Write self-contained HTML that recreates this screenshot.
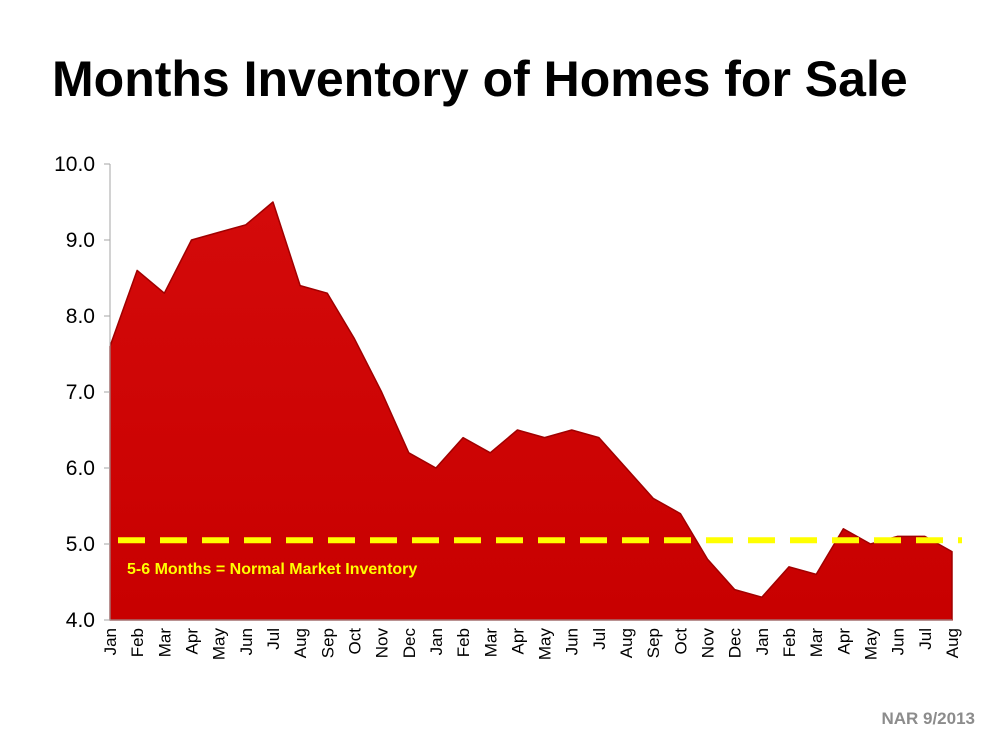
<!DOCTYPE html>
<html><head><meta charset="utf-8">
<style>
body{margin:0;background:#fff;width:1000px;height:750px;overflow:hidden;font-family:"Liberation Sans",Arial,sans-serif;}
svg{position:absolute;left:0;top:0}
</style></head>
<body>
<svg id="chart" width="1000" height="750">
<defs>
<linearGradient id="g" x1="0" y1="0" x2="0" y2="1"><stop offset="0" stop-color="#d40a0a"/><stop offset="1" stop-color="#c80000"/></linearGradient>
</defs>
<text x="52" y="96" font-size="50" font-weight="bold" fill="#000">Months Inventory of Homes for Sale</text>
<text x="975" y="724" font-size="17" font-weight="bold" fill="#8c8c8c" text-anchor="end">NAR 9/2013</text>
</svg>
<script>
const categories=["Jan","Feb","Mar","Apr","May","Jun","Jul","Aug","Sep","Oct","Nov","Dec","Jan","Feb","Mar","Apr","May","Jun","Jul","Aug","Sep","Oct","Nov","Dec","Jan","Feb","Mar","Apr","May","Jun","Jul","Aug"];
const values=[7.6,8.6,8.3,9.0,9.1,9.2,9.5,8.4,8.3,7.7,7.0,6.2,6.0,6.4,6.2,6.5,6.4,6.5,6.4,6.0,5.6,5.4,4.8,4.4,4.3,4.7,4.6,5.2,5.0,5.1,5.1,4.9];
const yTicks=[4.0,5.0,6.0,7.0,8.0,9.0,10.0];
const normalLevel=5.05;
const NS="http://www.w3.org/2000/svg";
const svg=document.getElementById('chart');
const x0=110,x1=952,yTop=164,yBot=620,yMin=4,yMax=10;
const xs=i=>x0+(x1-x0)*i/(categories.length-1);
const ys=v=>yBot-(v-yMin)/(yMax-yMin)*(yBot-yTop);
function mk(t,a){const e=document.createElementNS(NS,t);for(const k in a)e.setAttribute(k,a[k]);svg.appendChild(e);return e;}
let d=`M${xs(0)},${yBot}`;values.forEach((v,i)=>d+=` L${xs(i)},${ys(v)}`);d+=` L${xs(values.length-1)},${yBot} Z`;
const area=mk('path',{d,fill:'url(#g)',stroke:'#a00000','stroke-width':1.5,'stroke-linejoin':'round'});


const ax=mk('line',{x1:x0,y1:yTop,x2:x0,y2:yBot,stroke:'#a6a6a6','stroke-width':1});


yTicks.forEach(t=>{
 const tl=mk('line',{x1:x0-6,y1:ys(t),x2:x0,y2:ys(t),stroke:'#a6a6a6'});
 
 
 const tx=mk('text',{x:95,y:ys(t)+7,'font-size':21,'text-anchor':'end',fill:'#000'});
 tx.textContent=t.toFixed(1);
 
 
});
const xa=mk('line',{x1:x0,y1:yBot,x2:x1,y2:yBot,stroke:'#a6a6a6'});


categories.forEach((c,i)=>{
 const tx=mk('text',{x:0,y:0,'font-size':17,'text-anchor':'end',fill:'#000',transform:`translate(${xs(i)+6},${yBot+8}) rotate(-90)`});
 tx.textContent=c;
 
 
});
const nl=mk('line',{x1:x0+8,y1:ys(normalLevel),x2:x1+10,y2:ys(normalLevel),stroke:'#ffff00','stroke-width':6,'stroke-dasharray':'27,15'});


const lb=mk('text',{x:127,y:ys(normalLevel)+34,'font-size':16,'font-weight':'bold',fill:'#ffff00'});
lb.textContent='5-6 Months = Normal Market Inventory';


</script>
</body></html>
